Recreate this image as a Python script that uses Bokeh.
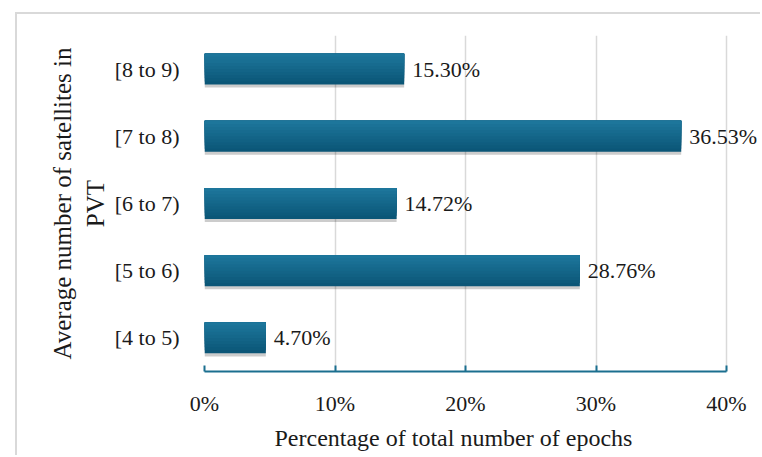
from bokeh.plotting import figure
from bokeh.models import (ColumnDataSource, FactorRange, Range1d, NumeralTickFormatter,
                          FixedTicker, LabelSet, Title)
from bokeh.transform import dodge
from bokeh.embed import file_html
from bokeh.resources import INLINE

# Share of epochs by average number of satellites used in the PVT solution
categories = ["[4 to 5)", "[5 to 6)", "[6 to 7)", "[7 to 8)", "[8 to 9)"]
percentages = [4.70, 28.76, 14.72, 36.53, 15.30]
x_ticks = [0, 10, 20, 30, 40]

labels = [f"{v:.2f}%" for v in percentages]
source = ColumnDataSource(data=dict(cat=categories, pct=percentages, label=labels))

FONT = "Liberation Serif"
TEAL = "#1b6f8f"
INK = "#1a1a1a"

# the axis spans 0-40 % over 522 px; the frame runs on to the right edge so the
# widest value label has room
AXIS_PX = 522
EXTRA_PX = 36
x_end = x_ticks[-1] * (AXIS_PX + EXTRA_PX) / AXIS_PX

p = figure(
    width=745, height=443,
    y_range=FactorRange(*categories),
    x_range=Range1d(0, x_end),
    output_backend="svg", toolbar_location=None,
    min_border_left=187, min_border_right=0,
    min_border_top=21, min_border_bottom=86,
)
p.margin = (12, 0, 0, 15)
p.styles = {"border-top": "2px solid #d9d9d9", "border-left": "2px solid #d9d9d9"}
p.outline_line_color = None
p.background_fill_color = "white"

BAR_H = 0.46

# soft drop shadow under each bar
p.hbar(y=dodge("cat", -0.045, range=p.y_range), left=0, right="pct", height=BAR_H,
       source=source, fill_color="black", fill_alpha=0.2, line_color=None)

# bars drawn as nested layers, each anchored at the top edge, for a vertical shading
top_rgb = (0x1d, 0x76, 0x9b)
bot_rgb = (0x0b, 0x56, 0x77)
n_layers = 10
for i in range(n_layers):
    t = i / (n_layers - 1)
    rgb = tuple(round(b + (a - b) * t) for a, b in zip(top_rgb, bot_rgb))
    color = "#%02x%02x%02x" % rgb
    h = BAR_H * (1 - i / n_layers)
    off = BAR_H / 2 - h / 2
    p.hbar(y=dodge("cat", off, range=p.y_range), left=0, right="pct", height=h,
           source=source, fill_color=color, line_color=None)

# value labels
p.add_layout(LabelSet(x="pct", y="cat", text="label", source=source, x_offset=8,
                      text_align="left", text_baseline="middle",
                      text_font=FONT, text_font_size="22px", text_color=INK))

# grid
p.ygrid.grid_line_color = None
p.xgrid.grid_line_color = "#d9d9d9"
p.xgrid.grid_line_width = 1.5

# x axis, with its line limited to 0-40 %
p.xaxis.bounds = (x_ticks[0], x_ticks[-1])
p.xaxis.ticker = FixedTicker(ticks=x_ticks)
p.xaxis.formatter = NumeralTickFormatter(format="0")
p.xaxis.major_label_overrides = {t: f"{t}%" for t in x_ticks}
p.xaxis.axis_line_color = TEAL
p.xaxis.axis_line_width = 2
p.xaxis.major_tick_line_color = TEAL
p.xaxis.major_tick_line_width = 2
p.xaxis.major_tick_in = 6
p.xaxis.major_tick_out = 0
p.xaxis.minor_tick_line_color = None
p.xaxis.major_label_standoff = 19
p.xaxis.major_label_text_font = FONT
p.xaxis.major_label_text_font_size = "22px"
p.xaxis.major_label_text_color = INK

# x-axis title, centred under the 0-40 % span rather than the whole frame
p.add_layout(Title(text="Percentage of total number of epochs", align="left", offset=70,
                   text_font=FONT, text_font_size="24px", text_font_style="normal",
                   text_color=INK, standoff=8), "below")

# y axis
p.yaxis.axis_line_color = None
p.yaxis.major_tick_line_color = None
p.yaxis.minor_tick_line_color = None
p.yaxis.major_label_standoff = 19
p.yaxis.major_label_text_font = FONT
p.yaxis.major_label_text_font_size = "22px"
p.yaxis.major_label_text_color = INK
p.yaxis.axis_label = "Average number of satellites in\nPVT"
p.yaxis.axis_label_text_font = FONT
p.yaxis.axis_label_text_font_size = "25px"
p.yaxis.axis_label_text_font_style = "normal"
p.yaxis.axis_label_text_color = INK
p.yaxis.axis_label_standoff = 3

open("out.html", "w").write(file_html(p, INLINE))
